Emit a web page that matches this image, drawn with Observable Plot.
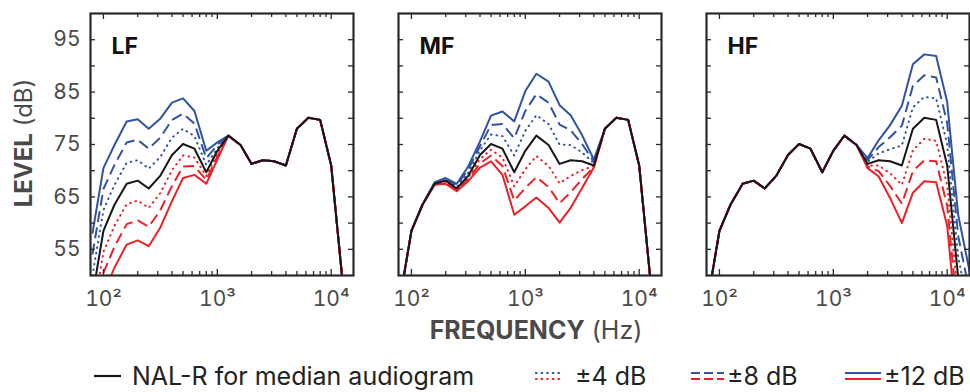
<!DOCTYPE html>
<html><head><meta charset="utf-8">
<script src="https://cdn.jsdelivr.net/npm/d3@7"></script>
<script src="https://cdn.jsdelivr.net/npm/@observablehq/plot@0.6"></script>
<style>
body{margin:0;background:#fff;}
#wrap{position:relative;width:970px;height:392px;overflow:hidden;font-family:Inter,sans-serif;}
.pn{position:absolute;top:0;}
#ylab{position:absolute;left:24px;top:143px;transform:translate(-50%,-50%) rotate(-90deg);white-space:nowrap;font-size:24px;color:#4a4a4a;line-height:1;}
#xlab{position:absolute;left:536px;top:330px;transform:translate(-50%,-50%);white-space:nowrap;font-size:25px;color:#4a4a4a;line-height:1;}
.lg{position:absolute;top:376px;transform:translateY(-50%);white-space:nowrap;font-size:25px;color:#222;line-height:1;}
.ls{position:absolute;top:366px;}
</style></head><body><div id="wrap">
<div id="ylab"><b>LEVEL</b> (dB)</div>
<div id="xlab"><b>FREQUENCY</b> (Hz)</div>
</div>
<script>
// 1/3-octave band centre frequencies (Hz)
const freq = [80,100,125,160,200,250,315,400,500,630,800,1000,1250,1600,2000,2500,3150,4000,5000,6300,8000,10000,12500,16000];
// NAL-R for median audiogram (dB)
const nalR = [46.0,58.5,63.5,67.5,68.1,66.6,69.0,73.0,75.1,74.2,69.7,73.8,76.7,74.9,71.3,72.0,71.8,71.0,78.0,80.1,79.7,71.0,49.5,38.0];
// LF panel
const lfPlus12  = [58.0,70.5,74.9,79.4,79.8,78.0,79.9,83.0,83.8,81.4,73.8,75.4,76.7,74.9,71.3,72.0,71.8,71.0,78.0,80.1,79.7,71.0,49.5,38.0];
const lfPlus8   = [54.0,66.5,71.1,75.4,75.9,74.2,76.3,79.7,80.9,79.0,72.4,74.9,76.7,74.9,71.3,72.0,71.8,71.0,78.0,80.1,79.7,71.0,49.5,38.0];
const lfPlus4   = [50.0,62.5,67.3,71.5,72.0,70.4,72.6,76.3,78.0,76.6,71.1,74.3,76.7,74.9,71.3,72.0,71.8,71.0,78.0,80.1,79.7,71.0,49.5,38.0];
const lfMinus4  = [42.0,54.5,59.5,63.6,64.3,62.9,65.7,70.1,72.9,72.5,69.0,73.2,76.7,74.9,71.3,72.0,71.8,71.0,78.0,80.1,79.7,71.0,49.5,38.0];
const lfMinus8  = [38.0,50.5,55.5,59.8,60.5,59.3,62.4,67.1,70.8,70.9,68.2,72.7,76.7,74.9,71.3,72.0,71.8,71.0,78.0,80.1,79.7,71.0,49.5,38.0];
const lfMinus12 = [34.0,46.5,51.5,55.9,56.7,55.6,59.1,64.2,68.6,69.2,67.5,72.1,76.7,74.9,71.3,72.0,71.8,71.0,78.0,80.1,79.7,71.0,49.5,38.0];
// MF panel
const mfPlus12  = [46.0,58.5,63.5,67.8,68.6,67.5,70.8,75.6,80.5,81.3,79.4,85.2,88.5,87.0,82.5,80.6,76.8,72.1,78.0,80.1,79.7,71.0,49.5,38.0];
const mfPlus8   = [46.0,58.5,63.5,67.7,68.4,67.2,70.2,74.7,78.7,78.9,76.2,81.4,84.6,83.0,78.8,77.7,75.1,71.7,78.0,80.1,79.7,71.0,49.5,38.0];
const mfPlus4   = [46.0,58.5,63.5,67.6,68.3,66.9,69.6,73.9,76.9,76.6,72.9,77.6,80.6,78.9,75.0,74.9,73.5,71.4,78.0,80.1,79.7,71.0,49.5,38.0];
const mfMinus4  = [46.0,58.5,63.5,67.4,67.9,66.4,68.7,72.2,74.0,72.5,67.0,70.3,72.8,70.9,67.6,69.0,70.1,70.9,78.0,80.1,79.7,71.0,49.5,38.0];
const mfMinus8  = [46.0,58.5,63.5,67.4,67.7,66.3,68.3,71.4,72.9,70.9,64.3,66.7,68.8,66.9,63.8,65.9,68.4,70.7,78.0,80.1,79.7,71.0,49.5,38.0];
const mfMinus12 = [46.0,58.5,63.5,67.3,67.5,66.1,68.0,70.6,71.8,69.2,61.6,63.2,64.9,62.9,60.1,62.9,66.7,70.6,78.0,80.1,79.7,71.0,49.5,38.0];
// HF panel
const hfPlus12  = [46.0,58.5,63.5,67.5,68.1,66.6,69.0,73.0,75.1,74.2,69.7,73.8,76.7,74.9,72.4,75.8,78.7,82.4,90.3,92.2,91.9,83.1,61.5,50.0];
const hfPlus8   = [46.0,58.5,63.5,67.5,68.1,66.6,69.0,73.0,75.1,74.2,69.7,73.8,76.7,74.9,72.0,74.5,76.4,78.6,86.2,88.2,87.8,79.1,57.5,46.0];
const hfPlus4   = [46.0,58.5,63.5,67.5,68.1,66.6,69.0,73.0,75.1,74.2,69.7,73.8,76.7,74.9,71.7,73.3,74.1,74.8,82.1,84.1,83.8,75.0,53.5,42.0];
const hfMinus4  = [46.0,58.5,63.5,67.5,68.1,66.6,69.0,73.0,75.1,74.2,69.7,73.8,76.7,74.9,71.0,71.0,69.5,67.3,73.9,76.1,75.7,67.2,45.5,34.0];
const hfMinus8  = [46.0,58.5,63.5,67.5,68.1,66.6,69.0,73.0,75.1,74.2,69.7,73.8,76.7,74.9,70.8,69.9,67.1,63.7,69.9,72.0,71.8,63.3,41.5,30.0];
const hfMinus12 = [46.0,58.5,63.5,67.5,68.1,66.6,69.0,73.0,75.1,74.2,69.7,73.8,76.7,74.9,70.5,68.9,64.8,60.0,65.8,68.0,67.8,59.5,37.5,26.0];
// panel names, ticks, legend labels
const panelNames = ["LF","MF","HF"];
const xMajor = [100,1000,10000];
const xMinor = [200,300,400,500,600,700,800,900,2000,3000,4000,5000,6000,7000,8000,9000];
const yTickVals = [55,60,65,70,75,80,85,90,95];
const yLabelVals = [55,65,75,85,95];
const legendLabels = ["NAL-R for median audiogram","±4 dB","±8 dB","±12 dB"];

const BLUE = "#3053a3", RED = "#ec2027", BLACK = "#161616", FRAME = "#2a2a2a";
const DOT = "0.6,5", DASH = "11,5.5";
const panelData = [
  {p4:lfPlus4,p8:lfPlus8,p12:lfPlus12,m4:lfMinus4,m8:lfMinus8,m12:lfMinus12},
  {p4:mfPlus4,p8:mfPlus8,p12:mfPlus12,m4:mfMinus4,m8:mfMinus8,m12:mfMinus12},
  {p4:hfPlus4,p8:hfPlus8,p12:hfPlus12,m4:hfMinus4,m8:hfMinus8,m12:hfMinus12}
];
const frameLeft = [90,398,706];
const innerW = 263, innerH = 262, mt = 13, mb = 50;
const sup = {2:"²",3:"³",4:"⁴"};
const wrap = document.getElementById("wrap");

panelData.forEach((s, i) => {
  const ml = i === 0 ? 90 : 20, mr = 4;
  const line = (vals, stroke, dash) => Plot.line(freq.map((f, j) => ({f, v: vals[j]})),
    {x: "f", y: "v", stroke, strokeWidth: 2, strokeDasharray: dash, strokeLinecap: dash === DOT ? "round" : "butt", clip: true});
  const chart = Plot.plot({
    width: ml + innerW + mr, height: mt + innerH + mb,
    marginLeft: ml, marginRight: mr, marginTop: mt, marginBottom: mb,
    style: {fontFamily: "Inter", fontSize: "21px", color: "#4a4a4a", background: "none", overflow: "visible"},
    x: {type: "log", domain: [77, 15700], ticks: xMajor, tickFormat: d => "10" + sup[Math.round(Math.log10(d))], tickSize: 0, tickPadding: 16, label: null},
    y: {domain: [50, 100], ticks: yLabelVals, tickSize: 0, tickPadding: 10, label: null, axis: i === 0 ? "left" : null},
    marks: [
      line(s.p4, BLUE, DOT), line(s.p8, BLUE, DASH), line(s.p12, BLUE, null),
      line(s.m4, RED, DOT), line(s.m8, RED, DASH), line(s.m12, RED, null),
      line(nalR, BLACK, null),
      Plot.tickX(xMajor, {x: d => d, insetTop: innerH - 6, stroke: FRAME, strokeWidth: 1.3}),
      Plot.tickX(xMajor, {x: d => d, insetBottom: innerH - 6, stroke: FRAME, strokeWidth: 1.3}),
      Plot.tickX(xMinor, {x: d => d, insetTop: innerH - 4, stroke: FRAME, strokeWidth: 1.3}),
      Plot.tickX(xMinor, {x: d => d, insetBottom: innerH - 4, stroke: FRAME, strokeWidth: 1.3}),
      Plot.tickY(yTickVals, {y: d => d, insetRight: innerW - 5, stroke: FRAME, strokeWidth: 1.3}),
      Plot.tickY(yTickVals, {y: d => d, insetLeft: innerW - 5, stroke: FRAME, strokeWidth: 1.3}),
      Plot.frame({stroke: FRAME, strokeWidth: 2.2}),
      Plot.text([panelNames[i]], {text: d => d, frameAnchor: "top-left", dx: 21, dy: 24, lineAnchor: "top", textAnchor: "start", fontSize: 23, fontWeight: "bold", fill: "#111"})
    ]
  });
  const div = document.createElement("div");
  div.className = "pn";
  div.style.left = (frameLeft[i] - ml) + "px";
  div.style.width = (ml + innerW + mr) + "px";
  div.appendChild(chart);
  wrap.appendChild(div);
});

// legend
function sample(x, lines) {
  const ns = "http://www.w3.org/2000/svg";
  const svg = document.createElementNS(ns, "svg");
  svg.setAttribute("width", 40); svg.setAttribute("height", 20);
  svg.setAttribute("class", "ls");
  svg.style.left = x + "px";
  lines.forEach(([y, c, dash, len]) => {
    const l = document.createElementNS(ns, "line");
    l.setAttribute("x1", 1); l.setAttribute("x2", len);
    l.setAttribute("y1", y); l.setAttribute("y2", y);
    l.setAttribute("stroke", c); l.setAttribute("stroke-width", 2.2);
    if (dash) l.setAttribute("stroke-dasharray", dash);
    if (dash === DOT) l.setAttribute("stroke-linecap", "round");
    svg.appendChild(l);
  });
  wrap.appendChild(svg);
}
function label(x, t) {
  const d = document.createElement("div");
  d.className = "lg"; d.style.left = x + "px"; d.textContent = t;
  wrap.appendChild(d);
}
sample(93, [[10, BLACK, null, 28]]);
label(132, legendLabels[0]);
sample(535, [[7, BLUE, DOT, 26], [13, RED, DOT, 26]]);
label(575, legendLabels[1]);
sample(690, [[7, BLUE, "9,4", 34], [13, RED, "9,4", 34]]);
label(727, legendLabels[2]);
sample(844, [[7, BLUE, null, 37], [13, RED, null, 37]]);
label(884, legendLabels[3]);
</script></body></html>
